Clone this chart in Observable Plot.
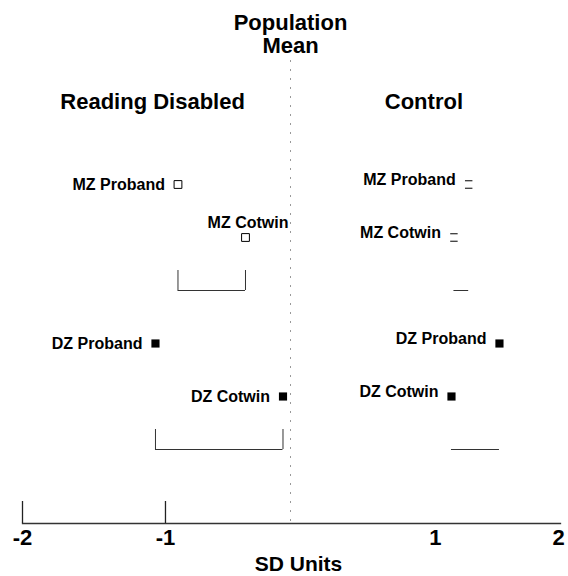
<!DOCTYPE html>
<html>
<head>
<meta charset="utf-8">
<script src="https://cdn.jsdelivr.net/npm/d3@7"></script>
<script src="https://cdn.jsdelivr.net/npm/@observablehq/plot@0.6"></script>
<style>
  html, body { margin: 0; padding: 0; background: #fff; }
  #chart svg { display: block; }
</style>
</head>
<body>
<div id="chart"></div>
<script>
// ---- data ----
const groups = ["Reading Disabled", "Control"];
const twinTypes = ["MZ", "DZ"];
const roles = ["Proband", "Cotwin"];
// order: MZ Proband, MZ Cotwin, DZ Proband, DZ Cotwin (SD units)
const readingDisabledMeans = [-0.90, -0.36, -1.07, -0.06];
const controlMeans = [1.27, 1.15, 1.52, 1.13];
const tickValues = [-2, -1, 1, 2];
const tallTicks = [-2, -1];
const rowOrder = ["MZ Proband", "MZ Cotwin", "MZ difference", "DZ Proband", "DZ Cotwin", "DZ difference"];

// ---- build tables ----
const points = [];
const diffs = [];
groups.forEach((g, gi) => {
  const vals = gi === 0 ? readingDisabledMeans : controlMeans;
  twinTypes.forEach((t, ti) => {
    const proband = vals[ti * 2], cotwin = vals[ti * 2 + 1];
    roles.forEach((r, ri) => points.push({group: g, twin: t, role: r, label: `${t} ${r}`, value: vals[ti * 2 + ri]}));
    diffs.push({group: g, twin: t, row: `${t} difference`, proband, cotwin});
  });
});
const bracketEnds = diffs.filter(d => d.group === "Reading Disabled")
  .flatMap(d => [{row: d.row, value: d.proband}, {row: d.row, value: d.cotwin}]);

// The printed axis is not evenly spaced (hand-drawn); reproduce its unit spacing.
const axisWarp = d3.scaleLinear().domain([-2, -1, 0, 1, 2]).range([-2, -0.933, 0, 1.082, 2]);

// open square whose side edges are lost (as printed for the control MZ pair)
const hbars = {
  draw(ctx, size) {
    const s = Math.sqrt(size) / 2;
    ctx.moveTo(-s, -s); ctx.lineTo(s, -s);
    ctx.moveTo(-s, s); ctx.lineTo(s, s);
  }
};

const isRD = d => d.group === "Reading Disabled";
const font = "'Liberation Sans', Arial, Helvetica, sans-serif";

try {
const chart = Plot.plot({
  width: 568,
  height: 576,
  marginTop: 60,
  marginBottom: 53,
  marginLeft: 22,
  marginRight: 8,
  style: {fontFamily: font, background: "#fff", color: "#000"},
  x: {type: "linear", domain: [-2, 2], range: [22, 558], transform: axisWarp, axis: null},
  y: {type: "point", domain: rowOrder, range: [184, 449], padding: 0, axis: null},
  marks: [
    // population mean reference line
    Plot.ruleX([0], {stroke: "#999", strokeWidth: 1, strokeDasharray: "2,7"}),
    // axis base line, the two long ticks and the tick labels
    Plot.frame({anchor: "bottom", stroke: "#333", strokeWidth: 1.3}),
    Plot.ruleX(tallTicks, {x: d => d, stroke: "#222", strokeWidth: 1.3, insetTop: 441}),
    Plot.text(tickValues, {x: d => d, text: d => String(d), frameAnchor: "bottom", lineAnchor: "top", dy: 6,
      fontSize: 22, fontWeight: "bold", fill: "#000"}),
    Plot.text(["SD Units"], {x: () => 0, dx: 8, frameAnchor: "bottom", lineAnchor: "top", dy: 33,
      fontSize: 21, fontWeight: "bold", fill: "#000"}),
    // headings
    Plot.text(["Population\nMean"], {x: () => 0, frameAnchor: "top", lineAnchor: "top", dy: -47,
      lineHeight: 1.05, fontSize: 22, fontWeight: "bold", fill: "#000"}),
    Plot.text(groups, {x: g => g === "Control" ? 0.92 : -1.09, frameAnchor: "top", lineAnchor: "top", dy: 33,
      fontSize: 22, fontWeight: "bold", fill: "#000"}),
    // difference brackets
    Plot.ruleY(diffs, {x1: "cotwin", x2: "proband", y: "row", stroke: "#333", strokeWidth: 1}),
    Plot.ruleX(bracketEnds, {x: "value", y1: "row", y2: "row", insetTop: -20, stroke: "#333", strokeWidth: 1}),
    // markers
    Plot.dot(points.filter(d => d.twin === "DZ"), {x: "value", y: "label", symbol: "square", r: 4.6, fill: "#000", stroke: "none"}),
    Plot.dot(points.filter(d => d.twin === "MZ" && isRD(d)), {x: "value", y: "label", symbol: "square", r: 4.4, fill: "#fff", stroke: "#000", strokeWidth: 1}),
    Plot.dot(points.filter(d => d.twin === "MZ" && !isRD(d)), {x: "value", y: "label", symbol: hbars, r: 4.2, fill: "none", stroke: "#000", strokeWidth: 1}),
    // labels
    Plot.text(points.filter(d => isRD(d) && d.label !== "MZ Cotwin"), {x: "value", y: "label", text: "label",
      textAnchor: "end", dx: -13, fontSize: 16, fontWeight: "bold", fill: "#000"}),
    Plot.text(points.filter(d => isRD(d) && d.label === "MZ Cotwin"), {x: "value", y: "label", text: "label",
      textAnchor: "end", dx: 43, dy: -15, fontSize: 16, fontWeight: "bold", fill: "#000"}),
    Plot.text(points.filter(d => !isRD(d)), {x: "value", y: "label", text: "label",
      textAnchor: "end", dx: -13, dy: -5, fontSize: 16, fontWeight: "bold", fill: "#000"})
  ]
});
document.getElementById("chart").appendChild(chart);
} catch (e) {
  const pre = document.createElement("pre");
  pre.textContent = String(e && e.stack || e);
  document.body.appendChild(pre);
}
</script>
</body>
</html>
